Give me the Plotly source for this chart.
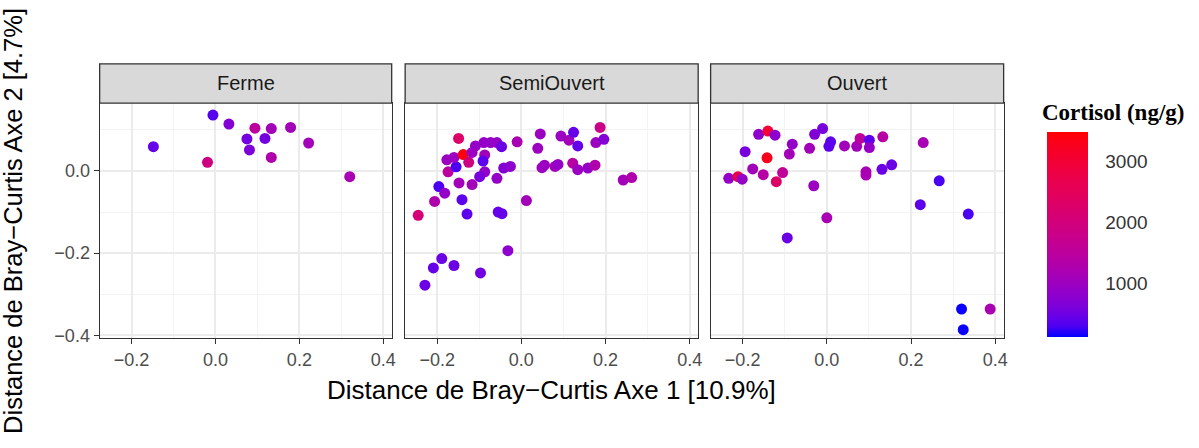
import numpy as np
import plotly.graph_objects as go

# ---- data: PCoA coordinates (Bray-Curtis) and faecal cortisol per habitat ----
panels = ["Ferme", "SemiOuvert", "Ouvert"]

ferme_x = [-0.148, -0.006, 0.032, -0.019, 0.094, 0.133, 0.179, 0.075, 0.118, 0.081, 0.133, 0.222, 0.320]
ferme_y = [0.059, 0.136, 0.114, 0.021, 0.104, 0.103, 0.106, 0.078, 0.079, 0.051, 0.033, 0.068, -0.014]
ferme_cort = [450, 350, 700, 1900, 1500, 1100, 1100, 550, 550, 650, 1300, 1100, 1200]

semi_x = [-0.245, -0.229, -0.209, -0.189, -0.160, -0.097, -0.032, -0.206, -0.196, -0.182,
          -0.141, -0.129, -0.055, -0.046, 0.012, -0.148, -0.117, -0.058, -0.174, -0.155,
          -0.177, -0.160, -0.149, -0.138, -0.125, -0.109, -0.117, -0.089, -0.073, -0.058,
          -0.047, -0.087, -0.091, -0.087, -0.099, -0.042, -0.026, -0.010, 0.045, 0.039,
          0.055, 0.049, 0.080, 0.087, 0.094, 0.113, 0.124, 0.134, 0.122, 0.134,
          0.158, 0.175, 0.187, 0.177, 0.196, 0.242, 0.262]
semi_y = [-0.108, -0.278, -0.236, -0.213, -0.230, -0.248, -0.194, -0.074, -0.038, -0.054,
          -0.070, -0.105, -0.100, -0.104, -0.072, -0.029, -0.033, -0.018, -0.002, 0.010,
          0.027, 0.033, 0.079, 0.040, 0.021, 0.061, 0.045, 0.069, 0.069, 0.069,
          0.059, 0.039, 0.024, -0.002, -0.014, 0.007, 0.011, 0.071, 0.090, 0.055,
          0.014, 0.008, 0.011, 0.016, 0.085, 0.075, 0.094, 0.061, 0.019, 0.003,
          0.007, 0.014, 0.106, 0.069, 0.077, -0.022, -0.016]
semi_cort = [2100, 500, 450, 500, 500, 550, 800, 1300, 300, 900,
             400, 400, 450, 450, 1100, 1100, 1100, 900, 1500, 300,
             1000, 1000, 2300, 3400, 1900, 900, 1000, 900, 900, 900,
             500, 1100, 400, 900, 600, 700, 800, 1200, 1000, 1000,
             1000, 1000, 1100, 900, 1000, 1100, 450, 450, 1400, 1000,
             900, 1300, 1800, 1000, 700, 1100, 1300]

ouvert_x = [-0.162, -0.140, -0.123, -0.194, -0.142, -0.082, -0.089, -0.041, -0.029, -0.010,
            0.009, 0.005, 0.042, -0.176, -0.151, -0.105, -0.120, -0.233, -0.211, -0.201,
            -0.031, -0.094, 0.000, 0.071, 0.079, 0.101, 0.101, 0.133, 0.229, 0.093,
            0.093, 0.131, 0.154, 0.267, 0.222, 0.336, 0.320, 0.324, 0.388]
ouvert_y = [0.089, 0.097, 0.087, 0.047, 0.032, 0.065, 0.041, 0.055, 0.089, 0.103,
            0.071, 0.060, 0.061, 0.005, -0.009, -0.004, -0.026, -0.018, -0.014, -0.020,
            -0.036, -0.163, -0.114, 0.060, 0.079, 0.075, 0.057, 0.083, 0.069, -0.002,
            -0.010, 0.004, 0.015, -0.024, -0.082, -0.105, -0.336, -0.386, -0.336]
ouvert_cort = [800, 3000, 800, 600, 3300, 900, 1100, 1100, 700, 600,
               400, 400, 1100, 1100, 1400, 1600, 2300, 900, 2700, 900,
               1000, 500, 1200, 1100, 1500, 400, 900, 1400, 1200, 1200,
               1200, 500, 500, 300, 400, 300, 150, 150, 1200]

cort_ticks = [1000, 2000, 3000]
cort_min, cort_max = 130, 3490

x_range = [-0.276, 0.42]
y_range = [-0.406, 0.165]


# ---- blue -> red gradient interpolated in CIE Lab ----
def _srgb_to_lab(rgb):
    c = np.array(rgb, dtype=float) / 255.0
    lin = np.where(c <= 0.04045, c / 12.92, ((c + 0.055) / 1.055) ** 2.4)
    m = np.array([[0.4124564, 0.3575761, 0.1804375],
                  [0.2126729, 0.7151522, 0.0721750],
                  [0.0193339, 0.1191920, 0.9503041]])
    xyz = m @ lin / np.array([0.95047, 1.0, 1.08883])
    f = np.where(xyz > 216 / 24389, np.cbrt(xyz), (24389 / 27 * xyz + 16) / 116)
    return np.array([116 * f[1] - 16, 500 * (f[0] - f[1]), 200 * (f[1] - f[2])])


def _lab_to_srgb(lab):
    L, a, b = lab
    fy = (L + 16) / 116
    fx = fy + a / 500
    fz = fy - b / 200
    f = np.array([fx, fy, fz])
    xyz = np.where(f ** 3 > 216 / 24389, f ** 3, (116 * f - 16) / (24389 / 27))
    xyz = xyz * np.array([0.95047, 1.0, 1.08883])
    minv = np.array([[3.2404542, -1.5371385, -0.4985314],
                     [-0.9692660, 1.8760108, 0.0415560],
                     [0.0556434, -0.2040259, 1.0572252]])
    lin = np.clip(minv @ xyz, 0, 1)
    c = np.where(lin <= 0.0031308, 12.92 * lin, 1.055 * lin ** (1 / 2.4) - 0.055)
    r, g, bb = np.clip(np.round(c * 255), 0, 255).astype(int)
    return f"rgb({r},{g},{bb})"


lab_lo = _srgb_to_lab((0, 0, 255))
lab_hi = _srgb_to_lab((255, 0, 0))
colorscale = [[t, _lab_to_srgb(lab_lo + (lab_hi - lab_lo) * t)] for t in np.linspace(0, 1, 21)]

# ---- layout geometry (pixels of a 1199 x 448 canvas) ----
W, H = 1199, 448
panel_px = [(100, 393), (406.5, 700.5), (713, 1007)]
plot_top, plot_bottom = 105, 344
strip_top = 65

def px_x(v):
    return v / W

def px_y(v):
    return 1 - v / H

fig = go.Figure()

series = [(ferme_x, ferme_y, ferme_cort), (semi_x, semi_y, semi_cort), (ouvert_x, ouvert_y, ouvert_cort)]
for i, (xs, ys, cs) in enumerate(series):
    suffix = "" if i == 0 else str(i + 1)
    fig.add_trace(go.Scatter(
        x=xs, y=ys, mode="markers",
        xaxis="x" + suffix, yaxis="y" + suffix,
        showlegend=False,
        marker=dict(
            size=11, color=cs, colorscale=colorscale, cmin=cort_min, cmax=cort_max,
            line=dict(width=0), opacity=1,
            showscale=(i == 0),
            colorbar=dict(
                x=px_x(1051), xanchor="left", xref="paper",
                y=px_y(343), yanchor="bottom", yref="paper",
                thickness=41, thicknessmode="pixels",
                len=205, lenmode="pixels",
                outlinewidth=0,
                tickvals=cort_ticks,
                ticks="outside", tickcolor="rgba(255,255,255,0)", ticklen=14, tickwidth=1,
                tickfont=dict(family="Liberation Sans", size=19, color="#333333"),
                xpad=0, ypad=0,
            ),
        ),
    ))

grid_major = "#EBEBEB"
grid_minor = "#F3F3F3"
for i, (x0, x1) in enumerate(panel_px):
    suffix = "" if i == 0 else str(i + 1)
    fig.update_layout({
        "xaxis" + suffix: dict(
            domain=[px_x(x0), px_x(x1)], range=x_range, anchor="y" + suffix,
            tick0=0, dtick=0.2, tickformat=".1f",
            showgrid=True, gridcolor=grid_major, gridwidth=1.6,
            minor=dict(dtick=0.1, tick0=0, showgrid=True, gridcolor=grid_minor, gridwidth=1),
            zeroline=False, showline=True, mirror=True, linecolor="#333333", linewidth=1.3,
            ticks="outside", ticklen=5, tickwidth=1.3, tickcolor="#333333",
            tickfont=dict(family="Liberation Sans", size=18, color="#4D4D4D"),
        ),
        "yaxis" + suffix: dict(
            domain=[px_y(plot_bottom), px_y(plot_top)], range=y_range, anchor="x" + suffix,
            tick0=0, dtick=0.2, tickformat=".1f",
            showgrid=True, gridcolor=grid_major, gridwidth=1.6,
            minor=dict(dtick=0.1, tick0=0, showgrid=True, gridcolor=grid_minor, gridwidth=1),
            zeroline=False, showline=True, mirror=True, linecolor="#333333", linewidth=1.3,
            ticks="outside" if i == 0 else "", ticklen=5, tickwidth=1.3, tickcolor="#333333",
            showticklabels=(i == 0),
            tickfont=dict(family="Liberation Sans", size=18, color="#4D4D4D"),
        ),
    })
    # facet strip
    fig.add_shape(type="rect", xref="x" + suffix + " domain", yref="paper",
                  x0=0, x1=1, y0=px_y(plot_top), y1=px_y(strip_top),
                  fillcolor="#D9D9D9", line=dict(color="#333333", width=1.3), layer="above")
    fig.add_annotation(text=panels[i], xref="x" + suffix + " domain", yref="paper",
                       x=0.5, y=px_y((plot_top + strip_top) / 2),
                       xanchor="center", yanchor="middle", showarrow=False,
                       font=dict(family="Liberation Sans", size=20, color="#1A1A1A"))

# axis titles and legend title
fig.add_annotation(text="Distance de Bray\u2212Curtis Axe 1 [10.9%]", xref="paper", yref="paper",
                   x=px_x(553), y=px_y(397), xanchor="center", yanchor="middle", showarrow=False,
                   font=dict(family="Liberation Sans", size=26, color="#000000"))
fig.add_annotation(text="Distance de Bray\u2212Curtis Axe 2 [4.7%]", xref="paper", yref="paper",
                   x=px_x(13), y=px_y(225), xanchor="center", yanchor="middle",
                   showarrow=False, textangle=-90,
                   font=dict(family="Liberation Sans", size=25.5, color="#000000"))
fig.add_annotation(text="<b>Cortisol (ng/g)</b>", xref="paper", yref="paper",
                   x=px_x(1043), y=px_y(115), xanchor="left", yanchor="middle", showarrow=False,
                   font=dict(family="Liberation Serif", size=23, color="#000000"))

fig.update_layout(
    width=W, height=H,
    margin=dict(l=0, r=0, t=0, b=0),
    paper_bgcolor="white", plot_bgcolor="white",
)

fig.write_html("out.html")
